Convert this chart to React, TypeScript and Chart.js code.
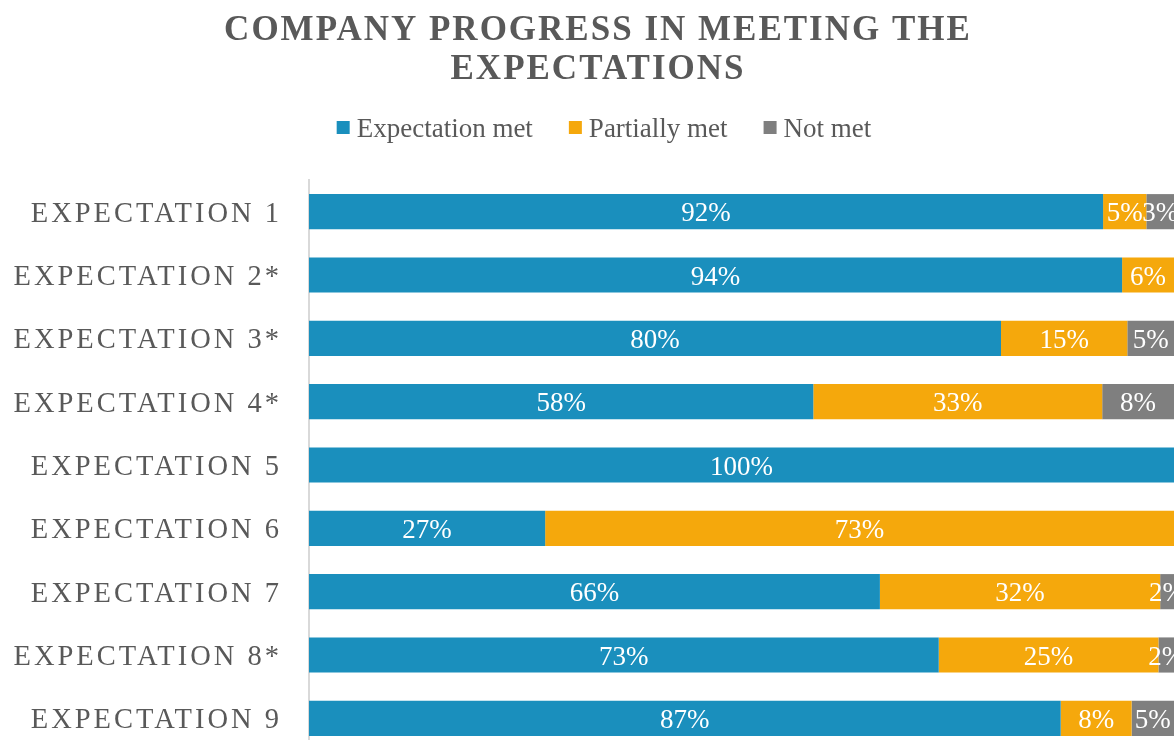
import React, { useEffect, useRef } from "react";
import { Chart, registerables } from "chart.js";

Chart.register(...registerables);

const TITLE_LINES = ["COMPANY PROGRESS IN MEETING THE", "EXPECTATIONS"];
const CATEGORIES = [
  "EXPECTATION 1",
  "EXPECTATION 2*",
  "EXPECTATION 3*",
  "EXPECTATION 4*",
  "EXPECTATION 5",
  "EXPECTATION 6",
  "EXPECTATION 7",
  "EXPECTATION 8*",
  "EXPECTATION 9",
];
const SERIES_NAMES = ["Expectation met", "Partially met", "Not met"];
const MET = [91.8, 94, 80, 58.3, 100, 27.3, 66, 72.8, 86.9];
const PARTIAL = [5, 6, 14.6, 33.4, 0, 72.7, 32.4, 25.4, 8.2];
const NOT_MET = [3.2, 0, 5.4, 8.3, 0, 0, 1.6, 1.8, 4.9];
const COLORS = ["#1A8FBD", "#F5A80C", "#7F7F7F"];

const TEXT_COLOR = "#595959";
const SERIF = "'Liberation Serif', 'Times New Roman', serif";

function spacedWidth(ctx: CanvasRenderingContext2D, text: string, spacing: number) {
  (ctx as any).letterSpacing = "0px";
  const w0 = ctx.measureText(text).width;
  return w0 + spacing * (text.length - 1);
}

const decorPlugin = {
  id: "decor",
  afterDatasetsDraw(chart: any) {
    const ctx: CanvasRenderingContext2D = chart.ctx;
    ctx.save();
    (ctx as any).letterSpacing = "0px";
    ctx.fillStyle = "#FFFFFF";
    ctx.font = `27px ${SERIF}`;
    ctx.textAlign = "center";
    ctx.textBaseline = "alphabetic";
    chart.data.datasets.forEach((ds: any, di: number) => {
      const meta = chart.getDatasetMeta(di);
      meta.data.forEach((el: any, i: number) => {
        const v = ds.data[i];
        if (!v || v <= 0) return;
        const c = el.getCenterPoint();
        ctx.fillText(`${Math.round(v)}%`, c.x, c.y + 9.5);
      });
    });
    ctx.restore();
  },
  afterDraw(chart: any) {
    const ctx: CanvasRenderingContext2D = chart.ctx;
    ctx.save();
    ctx.textAlign = "left";
    ctx.textBaseline = "alphabetic";
    ctx.fillStyle = TEXT_COLOR;

    // Title
    const titleSpacing = 2;
    ctx.font = `bold 35px ${SERIF}`;
    TITLE_LINES.forEach((line, i) => {
      const w = spacedWidth(ctx, line, titleSpacing);
      (ctx as any).letterSpacing = `${titleSpacing}px`;
      ctx.fillText(line, 597 - w / 2, 39.5 + i * 39);
    });

    // Legend
    (ctx as any).letterSpacing = "0px";
    ctx.font = `27px ${SERIF}`;
    const box = 13;
    const gapBoxText = 7;
    const gapItems = 36;
    const widths = SERIES_NAMES.map((n) => ctx.measureText(n).width);
    const total =
      widths.reduce((a, b) => a + b, 0) +
      SERIES_NAMES.length * (box + gapBoxText) +
      gapItems * (SERIES_NAMES.length - 1);
    let x = 604 - total / 2;
    SERIES_NAMES.forEach((n, i) => {
      ctx.fillStyle = COLORS[i];
      ctx.fillRect(x, 121, box, box);
      x += box + gapBoxText;
      ctx.fillStyle = TEXT_COLOR;
      ctx.fillText(n, x, 137);
      x += widths[i] + gapItems;
    });

    // Category labels
    const labelSpacing = 3;
    ctx.font = `28.5px ${SERIF}`;
    const yScale = chart.scales.y;
    chart.data.labels.forEach((lab: string, i: number) => {
      const y = yScale.getPixelForValue(i);
      const w = spacedWidth(ctx, lab, labelSpacing);
      (ctx as any).letterSpacing = `${labelSpacing}px`;
      ctx.fillText(lab, 279 - w, y + 10);
    });

    ctx.restore();
  },
};

export default function App() {
  const ref = useRef<HTMLCanvasElement | null>(null);

  useEffect(() => {
    if (!ref.current) return;
    const datasets = [MET, PARTIAL, NOT_MET].map((d, i) => ({
      label: SERIES_NAMES[i],
      data: d,
      backgroundColor: COLORS[i],
      borderWidth: 0,
      categoryPercentage: 1,
      barPercentage: 0.555,
    }));
    const chart = new Chart(ref.current, {
      type: "bar",
      data: { labels: CATEGORIES, datasets },
      options: {
        animation: false,
        responsive: false,
        maintainAspectRatio: false,
        devicePixelRatio: 1,
        indexAxis: "y",
        layout: { padding: { left: 309, top: 180, right: 1, bottom: 0 } },
        plugins: {
          legend: { display: false },
          title: { display: false },
          tooltip: { enabled: false },
        },
        scales: {
          x: { stacked: true, min: 0, max: 100, display: false },
          y: {
            stacked: true,
            ticks: { display: false },
            grid: { display: false, drawTicks: false },
            border: { display: true, color: "#D9D9D9", width: 2 },
          },
        },
      },
      plugins: [decorPlugin],
    });
    return () => chart.destroy();
  }, []);

  return (
    <div
      style={{
        position: "fixed",
        left: 0,
        top: 0,
        width: 1175,
        height: 740,
        overflow: "hidden",
        background: "#FFFFFF",
      }}
    >
      <canvas ref={ref} width={1175} height={750} style={{ display: "block" }} />
    </div>
  );
}
